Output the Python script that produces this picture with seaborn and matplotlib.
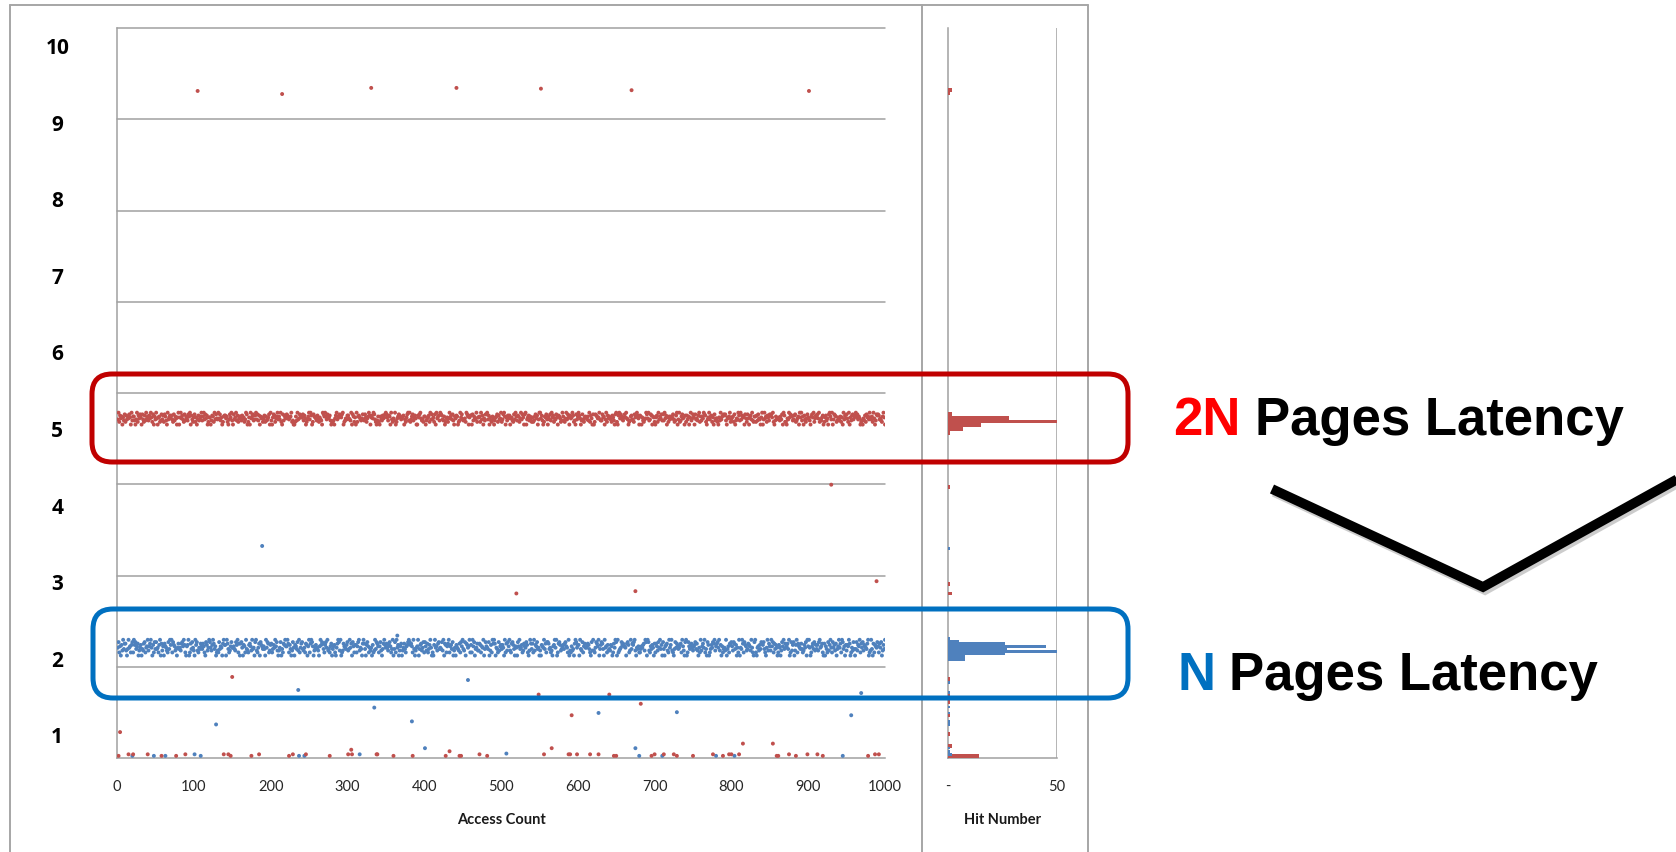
import numpy as np
import pandas as pd
import seaborn as sns
import matplotlib
matplotlib.use("Agg")
import matplotlib.pyplot as plt
from matplotlib.patches import FancyBboxPatch
from matplotlib.lines import Line2D

W, H = 1676, 853
RED, BLUE = "#C0504D", "#4F81BD"
GRID = "#A0A0A0"

# one point per access (1..1000); each digit picks a latency offset from the band centre
red_band_digits = [
    "3917460528 1736485092 6620391748 5083172946 2749518063 9405612837 1862093574 7318264059 0594731826 4286907315",
    "8150372469 2693847015 5027619384 3948250167 7461038592 0835927146 6274513980 1509468237 9382706451 4716235809",
    "2058714693 6391082754 8743569120 0162934875 5827401369 3970186542 7415320986 9638457201 1204793658 6589012437",
    "7432908615 0916753248 3285146970 5749831026 1063274589 8527609314 2901468753 4670315892 9136825740 0758942316",
    "6024571938 3518094672 9873260145 1495738206 4760129583 2341986057 7082643915 5619370428 8937052164 0256817349",
    "1389605274 7045218396 2761493850 8903572641 5126847039 9472016583 0638295714 3850764129 6214938507 4597120836",
    "9740283156 5362917408 0187645932 2856039174 6431752089 1079486325 8594301267 3218569740 7605213498 4923870651",
    "0571936482 8294705163 6458312790 3912684507 1736059248 5083427916 2649871035 9367150824 4105293678 7820546913",
    "5618024397 2937560841 8405739216 6172843059 0394617528 7859102634 4526380971 1043958762 3781246095 9260731485",
    "3206859147 6849132570 1572408963 9038761254 2615093748 4190527836 7958364012 0427185639 5361940287 8734216950",
]
blue_band_digits = [
    "4815062937 7203945168 1968357024 6032781459 2579406183 8341690725 0754218396 9186523047 3427859610 5690173842",
    "0968214375 3751086249 8426973501 2183540796 6097312584 4532869170 7840651932 1675293408 9214708653 5309487126",
    "7136495820 2480317695 5971630284 0653829147 8324176059 1798502463 4205968731 6849231570 3561047982 9012754368",
    "2394708516 6158924307 9730685142 4061293875 1582037964 7426851390 3819460257 0247315689 8675193024 5903672481",
    "8527136940 1069452783 4382907615 7915638024 0643271859 3280764591 6195803472 2761549038 5438026197 9704318256",
    "3640917285 9217863054 0859346127 5486102973 7192658340 2065493718 8734120569 4901786235 6378541902 1523079846",
    "6093281574 4576310829 2148759036 8730945162 3265017498 0912348675 5407861293 7689204351 1354672980 9821536407",
    "1752849360 8305672194 6921038475 3467195208 9018536742 5683720419 2574913086 0136487925 7849260513 4290351768",
    "5287360419 0439718652 3765294108 9104526387 6831049275 2958173640 1640285937 4573901826 8026917543 7312648095",
    "9401573826 3628945710 7053182694 1846270359 4719835062 6597014283 0382659174 8265437901 2930716548 5174802639",
]
red_centre = 5.13
red_offsets = [-0.085, -0.05, -0.032, -0.018, -0.005, 0.008, 0.02, 0.033, 0.048, 0.07]
blue_centre = 2.14
blue_offsets = [-0.11, -0.07, -0.045, -0.025, -0.008, 0.01, 0.028, 0.045, 0.065, 0.095]

# isolated samples off the bands
red_extra_x = [105, 215, 331, 442, 552, 670, 901, 930, 520, 675, 989,
               150, 4, 549, 641, 592, 682, 566, 815, 854, 305, 433]
red_extra_y = [9.40, 9.36, 9.44, 9.44, 9.43, 9.41, 9.40, 4.26, 2.84, 2.87, 3.00,
               1.75, 1.03, 1.52, 1.52, 1.25, 1.40, 0.82, 0.88, 0.88, 0.80, 0.78]
red_low_x = [2, 15, 21, 40, 58, 77, 89, 139, 145, 148, 175, 185, 224, 229, 246, 277,
             301, 306, 338, 339, 360, 385, 428, 446, 448, 472, 482, 556, 588, 590,
             599, 616, 627, 647, 650, 696, 700, 712, 725, 729, 750, 776, 789, 797,
             800, 810, 859, 861, 875, 884, 899, 912, 919, 978, 987, 992]
red_low_y = [0.72, 0.74, 0.74, 0.74, 0.72, 0.72, 0.74, 0.74, 0.74, 0.72, 0.72, 0.74,
             0.72, 0.74, 0.74, 0.72, 0.74, 0.74, 0.74, 0.74, 0.72, 0.72, 0.72, 0.72,
             0.72, 0.74, 0.72, 0.74, 0.74, 0.74, 0.74, 0.74, 0.74, 0.72, 0.72, 0.72,
             0.74, 0.74, 0.74, 0.72, 0.72, 0.74, 0.72, 0.74, 0.74, 0.74, 0.72, 0.72,
             0.74, 0.72, 0.74, 0.74, 0.72, 0.72, 0.74, 0.74]
blue_extra_x = [189, 969, 236, 457, 129, 335, 384, 401, 627, 729, 675, 956, 365]
blue_extra_y = [3.46, 1.54, 1.58, 1.71, 1.13, 1.35, 1.17, 0.82, 1.28, 1.29, 0.82, 1.25, 2.29]
blue_low_x = [20, 48, 63, 101, 109, 237, 244, 316, 507, 680, 710, 780, 804, 945]
blue_low_y = [0.72, 0.72, 0.72, 0.74, 0.72, 0.72, 0.72, 0.74, 0.75, 0.72, 0.72, 0.72, 0.72, 0.72]

# hit-number histogram (bin centre, count)
red_hist_y = [9.41, 9.37, 5.185, 5.135, 5.085, 5.035, 4.985, 4.935, 4.23, 2.96, 2.84,
              1.72, 1.52, 1.42, 1.25, 1.00, 0.85, 0.715]
red_hist_n = [2, 1, 2, 28, 50, 15, 7, 1, 1, 1, 2, 1, 1, 1, 1, 1, 2, 14]
blue_hist_y = [3.43, 2.252, 2.219, 2.184, 2.150, 2.119, 2.085, 2.050, 2.014, 1.980,
               1.68, 1.55, 1.36, 1.28, 1.17, 1.13, 0.82, 0.78, 0.74]
blue_hist_n = [1, 1, 5, 26, 45, 27, 50, 26, 8, 8, 1, 1, 1, 1, 1, 1, 1, 1, 2]

y_labels = [str(i) for i in range(1, 11)]
x_ticks = list(range(0, 1001, 100))


def decode(rows, centre, offsets):
    codes = "".join(rows).replace(" ", "")
    return [centre + offsets[int(c)] for c in codes]


def main():
    sns.set_style("white")
    plt.rcParams["font.family"] = ["Lato", "DejaVu Sans"]

    red_band = decode(red_band_digits, red_centre, red_offsets)
    blue_band = decode(blue_band_digits, blue_centre, blue_offsets)
    parts = [
        ("N", list(range(1, len(blue_band) + 1)), blue_band),
        ("N", blue_extra_x, blue_extra_y),
        ("N", blue_low_x, blue_low_y),
        ("2N", list(range(1, len(red_band) + 1)), red_band),
        ("2N", red_extra_x, red_extra_y),
        ("2N", red_low_x, red_low_y),
    ]
    df = pd.concat([pd.DataFrame({"access": xs, "latency": ys, "series": s})
                    for s, xs, ys in parts], ignore_index=True)

    fig = plt.figure(figsize=(W / 100, H / 100), dpi=100)
    ylo, yhi = 0.692, 10.222
    grid_pos = np.linspace(ylo, yhi, 9)

    ax = fig.add_axes([117 / W, 1 - 759 / H, 768 / W, 730 / H])
    sns.scatterplot(data=df, x="access", y="latency", hue="series",
                    palette={"N": BLUE, "2N": RED}, s=8, linewidth=0,
                    legend=False, ax=ax, zorder=3)
    ax.set_xlim(0, 1000)
    ax.set_ylim(ylo, yhi)
    for g in grid_pos[1:]:
        ax.axhline(g, color=GRID, lw=1.1, clip_on=False, zorder=1)
    ax.set_xticks(x_ticks)
    ax.set_yticks(range(1, 11), labels=y_labels, fontsize=15, fontweight="bold",
                  fontfamily=["Open Sans", "DejaVu Sans"], ha="center")
    ax.set_yticks(grid_pos, minor=True)
    ax.tick_params(axis="y", which="major", length=0, pad=43, labelcolor="black")
    ax.tick_params(axis="y", which="minor", length=3.6, width=1.1, color=GRID, direction="out")
    ax.tick_params(axis="x", length=5.8, width=1.1, color=GRID, direction="out",
                   labelsize=10.5, pad=9, labelcolor="#262626")
    for side in ["top", "right"]:
        ax.spines[side].set_visible(False)
    for side in ["left", "bottom"]:
        ax.spines[side].set_color(GRID)
        ax.spines[side].set_linewidth(1.1)
    ax.set_ylabel("")
    ax.set_xlabel("Access Count", fontsize=10.5, fontweight="bold", color="#1a1a1a")
    ax.xaxis.set_label_coords(0.5, -(813 - 759) / 730)

    axh = fig.add_axes([948 / W, 1 - 759 / H, 109 / W, 730 / H])
    axh.barh(red_hist_y, red_hist_n, height=0.05, color=RED, linewidth=0, zorder=3)
    axh.barh(blue_hist_y, blue_hist_n, height=0.034, color=BLUE, linewidth=0, zorder=3)
    axh.set_xlim(0, 50)
    axh.set_ylim(ylo, yhi)
    axh.axvline(50, color=GRID, lw=1.1, zorder=1)
    axh.set_xticks([0, 50], labels=["-", "50"])
    axh.set_yticks([])
    axh.tick_params(axis="x", length=5.8, width=1.1, color=GRID, direction="out",
                    labelsize=10.5, pad=9, labelcolor="#262626")
    for side in ["top", "right"]:
        axh.spines[side].set_visible(False)
    for side in ["left", "bottom"]:
        axh.spines[side].set_color(GRID)
        axh.spines[side].set_linewidth(1.1)
    axh.set_xlabel("Hit Number", fontsize=10.5, fontweight="bold", color="#1a1a1a")
    axh.xaxis.set_label_coords(0.5, -(813 - 759) / 730)

    # chart frame
    frame = dict(color="#A6A6A6", lw=1.4, transform=fig.transFigure)
    fig.add_artist(Line2D([10 / W, 1088 / W], [1 - 6 / H, 1 - 6 / H], **frame))
    for xf in [10, 922, 1088]:
        fig.add_artist(Line2D([xf / W, xf / W], [1 - 6 / H, 0], **frame))

    # highlight boxes
    for (x0, y0, x1, y1), col in [((92, 375, 1128, 463), "#C00000"),
                                  ((93, 610, 1128, 699), "#0070C0")]:
        fig.add_artist(FancyBboxPatch((x0 / 100, (H - y1) / 100), (x1 - x0) / 100, (y1 - y0) / 100,
                                      boxstyle="round,pad=0,rounding_size=0.2",
                                      transform=fig.dpi_scale_trans, fill=False,
                                      ec=col, lw=3.6, zorder=5))

    big = dict(fontsize=38, fontweight="bold", fontfamily=["Liberation Sans", "DejaVu Sans"],
               va="baseline", ha="left")
    fig.text(1173 / W, 1 - 435 / H, "2N", color="#FF0000", **big)
    fig.text(1255 / W, 1 - 435 / H, "Pages Latency", color="black", **big)
    fig.text(1177 / W, 1 - 690 / H, "N", color="#0070C0", **big)
    fig.text(1229 / W, 1 - 690 / H, "Pages Latency", color="black", **big)

    # V stroke
    vx = [1272, 1483, 1692]
    vy = [490, 588, 472]
    fig.add_artist(Line2D([(x + 2) / W for x in vx], [1 - (y + 3) / H for y in vy],
                          color="#9a9a9a", alpha=0.5, lw=7, solid_joinstyle="miter",
                          solid_capstyle="butt", transform=fig.transFigure, zorder=4))
    fig.add_artist(Line2D([x / W for x in vx], [1 - y / H for y in vy],
                          color="black", lw=7, solid_joinstyle="miter",
                          solid_capstyle="butt", transform=fig.transFigure, zorder=5))

    fig.savefig("out.png", dpi=100)


if __name__ == "__main__":
    main()
